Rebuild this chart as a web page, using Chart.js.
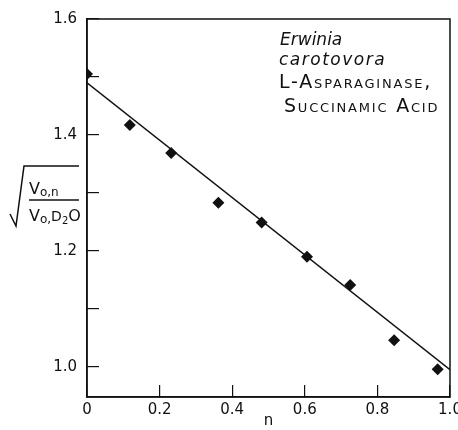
<!DOCTYPE html>
<html>
<head>
<meta charset="utf-8">
<script src="https://cdn.jsdelivr.net/npm/chart.js@4.4.1/dist/chart.umd.min.js"></script>
<style>
  html, body { margin: 0; padding: 0; background: #fff; }
  #wrap { width: 458px; height: 430px; }
</style>
</head>
<body>
<div id="wrap"><canvas id="chart"></canvas></div>
<script>
// measured points
const N_VALUES = [0, 0.118, 0.232, 0.362, 0.481, 0.606, 0.725, 0.846, 0.966]
const RATIO_VALUES = [1.505, 1.417, 1.369, 1.283, 1.249, 1.19, 1.141, 1.046, 0.996]

// fitted straight line, end points
const FIT_N = [0, 1.0]
const FIT_RATIO = [1.49, 0.995]

const X_TICKS = [0, 0.2, 0.4, 0.6, 0.8, 1.0]
const Y_TICKS = [1.0, 1.1, 1.2, 1.3, 1.4, 1.5, 1.6]
const Y_LABELED = [1.0, 1.2, 1.4, 1.6]

const INK = "#111"
const FONT = "'DejaVu Sans', sans-serif"

// draws runs of text: [text, size, baselineShift]
const drawRuns = (ctx, runs, x, y) => {
  let cx = x
  runs.forEach(([text, size, shift]) => {
    ctx.font = `${size}px ${FONT}`
    ctx.fillText(text, cx, y + shift)
    cx += ctx.measureText(text).width
  })
}

const decorations = {
  id: "decorations",
  afterDraw(chart) {
    const { ctx, chartArea } = chart
    ctx.save()
    ctx.strokeStyle = INK
    ctx.fillStyle = INK
    ctx.lineWidth = 1.5

    // frame round the plot
    ctx.strokeRect(chartArea.left, chartArea.top,
      chartArea.right - chartArea.left, chartArea.bottom - chartArea.top)

    // annotation
    ctx.textBaseline = "alphabetic"
    ctx.textAlign = "left"
    ctx.font = `italic 17px ${FONT}`
    ctx.letterSpacing = "0px"
    ctx.fillText("Erwinia", 280, 45)
    ctx.letterSpacing = "1.5px"
    ctx.fillText("carotovora", 279, 65)
    ctx.font = `small-caps 19px ${FONT}`
    ctx.letterSpacing = "1.8px"
    ctx.fillText("L-Asparaginase,", 279, 88)
    ctx.fillText("Succinamic Acid", 284, 112)
    ctx.letterSpacing = "0px"

    // y axis title: radical over a fraction
    ctx.lineWidth = 1.5
    ctx.beginPath()
    ctx.moveTo(10, 214)
    ctx.lineTo(16, 226)
    ctx.lineTo(24, 166)
    ctx.lineTo(79, 166)
    ctx.stroke()
    ctx.beginPath()
    ctx.moveTo(29, 200)
    ctx.lineTo(79, 200)
    ctx.stroke()
    drawRuns(ctx, [["V", 16, 0], ["o,n", 12, 2]], 29, 194)
    drawRuns(ctx, [["V", 16, 0], ["o,", 12, 2], ["D", 14, 0], ["2", 10, 3], ["O", 16, 0]], 29, 221)

    ctx.restore()
  },
}

new Chart(document.getElementById("chart"), {
  type: "scatter",
  data: {
    datasets: [
      {
        label: "Measured",
        data: N_VALUES.map((n, i) => ({ x: n, y: RATIO_VALUES[i] })),
        pointStyle: "rectRot",
        pointRadius: 6,
        backgroundColor: INK,
        borderWidth: 0,
      },
      {
        label: "Fit",
        data: FIT_N.map((n, i) => ({ x: n, y: FIT_RATIO[i] })),
        showLine: true,
        pointRadius: 0,
        borderColor: INK,
        borderWidth: 1.5,
      },
    ],
  },
  options: {
    animation: false,
    responsive: true,
    maintainAspectRatio: false,
    layout: { padding: { left: 0, top: 19, right: 8, bottom: 0 } },
    plugins: {
      legend: { display: false },
      tooltip: { enabled: false },
    },
    scales: {
      x: {
        type: "linear",
        min: 0,
        max: 1.0,
        afterBuildTicks: (scale) => {
          scale.ticks = X_TICKS.map((v) => ({ value: v }))
        },
        afterFit: (scale) => {
          scale.height = 33
          scale.paddingLeft = 0
          scale.paddingRight = 0
        },
        ticks: {
          color: INK,
          font: { family: FONT, size: 15 },
          padding: 16,
          maxRotation: 0,
          callback: (value) => (value === 0 ? "0" : value.toFixed(1)),
        },
        grid: {
          drawOnChartArea: false,
          tickLength: -12,
          color: INK,
          lineWidth: 1.2,
        },
        border: { color: INK, width: 1.5 },
        title: {
          display: true,
          text: "n",
          color: INK,
          font: { family: FONT, size: 15 },
          padding: { top: 3, bottom: 0 },
        },
      },
      y: {
        type: "linear",
        min: 0.948,
        max: 1.6,
        afterBuildTicks: (scale) => {
          scale.ticks = Y_TICKS.map((v) => ({ value: v }))
        },
        afterFit: (scale) => {
          scale.width = 87
          scale.paddingTop = 0
          scale.paddingBottom = 0
        },
        ticks: {
          color: INK,
          font: { family: FONT, size: 15 },
          padding: 22,
          callback: (value) =>
            Y_LABELED.some((v) => Math.abs(v - value) < 1e-6) ? value.toFixed(1) : "",
        },
        grid: {
          drawOnChartArea: false,
          tickLength: -12,
          color: INK,
          lineWidth: 1.2,
        },
        border: { color: INK, width: 1.5 },
      },
    },
  },
  plugins: [decorations],
})
</script>
</body>
</html>
